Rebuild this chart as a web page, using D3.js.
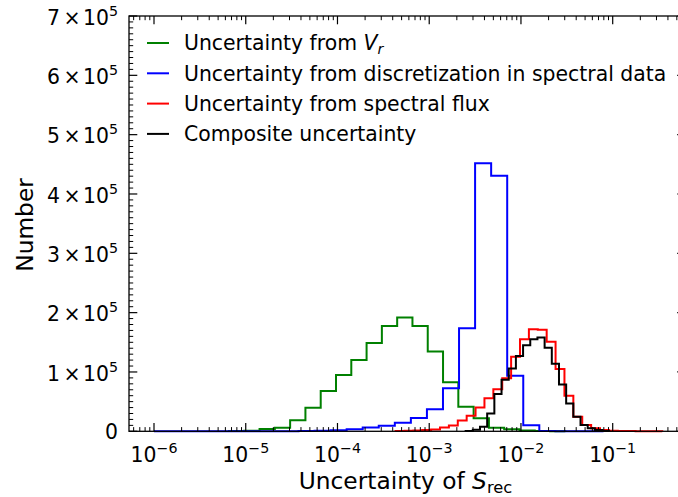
<!DOCTYPE html>
<html><head><meta charset="utf-8">
<script src="https://cdn.jsdelivr.net/npm/d3@7"></script>
<style>
body{margin:0;background:#fff}
svg{display:block}
text{font-family:"DejaVu Sans",sans-serif;fill:#000}
</style>
</head><body>
<svg id="c" width="678" height="497"></svg>
<script>
// ---------- data ----------
const xTickExponents = [-6, -5, -4, -3, -2, -1];
const yTickValues = [0, 100000, 200000, 300000, 400000, 500000, 600000, 700000];
const yTickMantissas = ["0", "1", "2", "3", "4", "5", "6", "7"];
const yTickPower = "5";
const xDomainLog = [-6.2725, -0.2065];
const yDomain = [0, 700000];

const seriesLabels = [
  ["Uncertainty from ", "V", "r"],
  ["Uncertainty from discretization in spectral data"],
  ["Uncertainty from spectral flux"],
  ["Composite uncertainty"]
];
const seriesColors = ["green", "blue", "red", "black"];

// log10 of first bin edge, log10 bin width, counts per bin
const greenLogStart = -5.1828, greenLogStep = 0.16667;
const greenCounts = [300, 1000, 3900, 6000, 18500, 39600, 68000, 95000, 120000, 149000,
  177500, 192000, 177500, 134500, 82800, 41500, 22000, 6000, 3400, 1500, 500, 200];

const blueLogStart = -6.0, blueLogStep = 0.175;
const blueCounts = [0, 0, 0, 0, 0, 0, 0, 50, 200, 600, 1000, 1800, 3400, 6400, 9300,
  14500, 22400, 37200, 72500, 173600, 451700, 430800, 93700, 10000, 500, 100, 0, 0];

const redLogStart = -3.367, redLogStep = 0.0969;
const redCounts = [500, 800, 1200, 2000, 3000, 6400, 9800, 18200, 26300, 40000,
  55600, 70800, 89300, 125700, 155000, 172000, 171000, 151000, 105000, 60000,
  24600, 10600, 5000, 2200, 1000, 500, 300, 150, 80, 40];

const blackLogStart = -2.6031, blackLogStep = 0.07827;
const blackCounts = [300, 2500, 7800, 30000, 63000, 87000, 106000, 127000, 145000, 155000,
  158000, 141000, 114000, 79000, 47000, 24600, 10600, 5000, 2000, 500];

const seriesData = [
  [greenLogStart, greenLogStep, greenCounts],
  [blueLogStart, blueLogStep, blueCounts],
  [redLogStart, redLogStep, redCounts],
  [blackLogStart, blackLogStep, blackCounts]
];

// ---------- layout ----------
const L = 129, R = 685.5, T = 16, B = 431.3;
const svg = d3.select("#c");
const x = d3.scaleLog().domain(xDomainLog.map(e => Math.pow(10, e))).range([L, R]);
const y = d3.scaleLinear().domain(yDomain).range([B, T]);

// ---------- histograms ----------
const line = d3.line().x(d => x(d[0])).y(d => y(d[1]));
seriesData.forEach(([s0, st, counts], i) => {
  const pts = [];
  const edge = k => Math.pow(10, s0 + k * st);
  pts.push([edge(0), 0]);
  counts.forEach((c, k) => { pts.push([edge(k), c]); pts.push([edge(k + 1), c]); });
  pts.push([edge(counts.length), 0]);
  svg.append("path").attr("d", line(pts)).attr("fill", "none")
    .attr("stroke", seriesColors[i]).attr("stroke-width", 2).attr("stroke-linejoin", "miter");
});

// ---------- axes ----------
const MAJ = 8.3, MIN = 4.2;
const g = svg.append("g").attr("stroke", "#000");
const xMinor = [];
for (let e = -7; e <= 0; e++) for (let m = 2; m <= 9; m++) {
  const v = m * Math.pow(10, e);
  if (x(v) >= L && x(v) <= R) xMinor.push(v);
}
xMinor.forEach(v => {
  g.append("line").attr("x1", x(v)).attr("x2", x(v)).attr("y1", B).attr("y2", B - MIN).attr("stroke-width", 1);
  g.append("line").attr("x1", x(v)).attr("x2", x(v)).attr("y1", T).attr("y2", T + MIN).attr("stroke-width", 1);
});
xTickExponents.forEach(e => {
  const v = Math.pow(10, e);
  g.append("line").attr("x1", x(v)).attr("x2", x(v)).attr("y1", B).attr("y2", B - MAJ).attr("stroke-width", 1.2);
  g.append("line").attr("x1", x(v)).attr("x2", x(v)).attr("y1", T).attr("y2", T + MAJ).attr("stroke-width", 1.2);
});
for (let v = 0; v <= 700000; v += 10000) {
  const major = v % 100000 === 0;
  const len = major ? MAJ : MIN;
  g.append("line").attr("x1", L).attr("x2", L + len).attr("y1", y(v)).attr("y2", y(v)).attr("stroke-width", major ? 1.2 : 1);
  g.append("line").attr("x1", R).attr("x2", R - len).attr("y1", y(v)).attr("y2", y(v)).attr("stroke-width", major ? 1.2 : 1);
}
svg.append("rect").attr("x", L).attr("y", T).attr("width", R - L).attr("height", B - T)
  .attr("fill", "none").attr("stroke", "#000").attr("stroke-width", 1.3);

// ---------- tick labels ----------
const FS = 20.4;
xTickExponents.forEach(e => {
  const t = svg.append("text").attr("x", x(Math.pow(10, e))).attr("y", 462)
    .attr("text-anchor", "middle").style("font-size", FS + "px");
  t.append("tspan").text("10");
  t.append("tspan").attr("dy", -9).style("font-size", (FS * 0.7) + "px").text("\u2212" + (-e));
});
yTickValues.forEach((v, i) => {
  const t = svg.append("text").attr("x", 118).attr("text-anchor", "end").style("font-size", FS + "px");
  if (v === 0) {
    t.attr("y", y(v) + 7.3).text(yTickMantissas[i]);
  } else {
    t.attr("y", y(v) + 8.8);
    t.append("tspan").text(yTickMantissas[i]);
    t.append("tspan").attr("dx", 3.5).text("\u00d7");
    t.append("tspan").attr("dx", 2.5).text("10");
    t.append("tspan").attr("dy", -9).style("font-size", (FS * 0.7) + "px").text(yTickPower);
  }
});

// ---------- axis labels ----------
const LFS = 23.3;
const xl = svg.append("text").attr("x", 405.5).attr("y", 489).attr("text-anchor", "middle").style("font-size", LFS + "px");
xl.append("tspan").text("Uncertainty of ");
xl.append("tspan").style("font-style", "italic").text("S");
xl.append("tspan").attr("dy", 4).style("font-size", (LFS * 0.7) + "px").text("rec");

svg.append("text").attr("transform", "translate(33,225) rotate(-90)").attr("text-anchor", "middle")
  .style("font-size", LFS + "px").text("Number");

// ---------- legend ----------
const legRows = [43, 73.3, 103.6, 133.9];
seriesLabels.forEach((lab, i) => {
  const yy = legRows[i];
  svg.append("line").attr("x1", 147).attr("x2", 169).attr("y1", yy).attr("y2", yy)
    .attr("stroke", seriesColors[i]).attr("stroke-width", 2);
  const t = svg.append("text").attr("x", 184).attr("y", yy + 7.3).style("font-size", FS + "px");
  t.append("tspan").text(lab[0]);
  if (lab.length > 1) {
    t.append("tspan").style("font-style", "italic").text(lab[1]);
    t.append("tspan").attr("dy", 4).style("font-style", "italic").style("font-size", (FS * 0.7) + "px").text(lab[2]);
  }
});
</script>
</body></html>
